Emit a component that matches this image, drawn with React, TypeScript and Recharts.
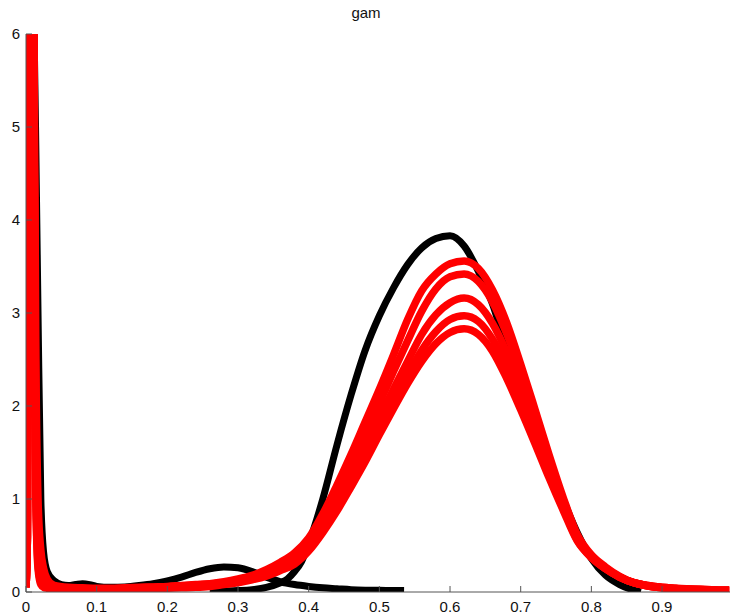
import React from 'react';
import { LineChart, Line, XAxis, YAxis } from 'recharts';

// x positions
const redSpikeX = [0, 0.002, 0.004, 0.0075, 0.011, 0.014, 0.017, 0.021, 0.025];
const redLowX = [0.03, 0.04, 0.06, 0.08, 0.1, 0.12, 0.14, 0.16, 0.18, 0.2, 0.22, 0.24, 0.26, 0.28];
const redMainX = [0.3, 0.32, 0.34, 0.36, 0.38, 0.4, 0.42, 0.44, 0.46, 0.48, 0.5, 0.52, 0.54, 0.56, 0.58, 0.6, 0.62, 0.64, 0.66, 0.68, 0.7, 0.72, 0.74, 0.76, 0.78, 0.8, 0.82, 0.84, 0.86, 0.88, 0.9, 0.92, 0.94, 0.96, 0.98, 0.995];
const redX = [...redSpikeX, ...redLowX, ...redMainX];

const redA = [0.05, 0.6, 6, 12, 6.5, 2.5, 1.0, 0.45, 0.25,
  0.14, 0.07, 0.05, 0.045, 0.04, 0.04, 0.045, 0.05, 0.055, 0.06, 0.07, 0.08, 0.09, 0.11,
  0.14, 0.18, 0.24, 0.32, 0.42, 0.58, 0.84, 1.15, 1.48, 1.83, 2.18, 2.55, 2.93, 3.24, 3.42, 3.53, 3.56, 3.48, 3.25, 2.9, 2.45, 1.97, 1.48, 1.02, 0.62, 0.4, 0.27, 0.17, 0.1, 0.07, 0.05, 0.04, 0.03, 0.03, 0.02, 0.02];
const redB = [0.05, 0.6, 6, 12, 6, 1.0, 0.3, 0.1, 0.06,
  0.05, 0.04, 0.035, 0.035, 0.035, 0.035, 0.04, 0.045, 0.05, 0.055, 0.065, 0.075, 0.085, 0.1,
  0.13, 0.17, 0.22, 0.29, 0.38, 0.53, 0.77, 1.06, 1.37, 1.7, 2.03, 2.37, 2.7, 3.02, 3.26, 3.39, 3.42, 3.34, 3.12, 2.78, 2.36, 1.9, 1.43, 0.99, 0.6, 0.39, 0.26, 0.16, 0.1, 0.07, 0.05, 0.04, 0.03, 0.025, 0.02, 0.02];
const redC = [0.05, 0.8, 7, 12, 5.5, 1.6, 0.6, 0.2, 0.1,
  0.06, 0.04, 0.03, 0.03, 0.03, 0.03, 0.035, 0.04, 0.045, 0.05, 0.06, 0.07, 0.08, 0.09,
  0.12, 0.16, 0.2, 0.27, 0.35, 0.49, 0.71, 0.97, 1.26, 1.56, 1.87, 2.18, 2.48, 2.77, 2.98, 3.11, 3.16, 3.09, 2.89, 2.58, 2.2, 1.78, 1.35, 0.95, 0.58, 0.38, 0.25, 0.16, 0.1, 0.065, 0.045, 0.035, 0.03, 0.025, 0.02, 0.02];
const redD = [0.05, 0.6, 6, 12, 6, 1.2, 0.4, 0.15, 0.08,
  0.05, 0.035, 0.025, 0.025, 0.025, 0.025, 0.03, 0.035, 0.04, 0.045, 0.055, 0.06, 0.07, 0.085,
  0.11, 0.15, 0.19, 0.25, 0.32, 0.46, 0.67, 0.91, 1.18, 1.46, 1.76, 2.06, 2.34, 2.6, 2.8, 2.93, 2.97, 2.91, 2.72, 2.43, 2.07, 1.68, 1.29, 0.91, 0.56, 0.37, 0.25, 0.16, 0.1, 0.065, 0.045, 0.035, 0.03, 0.025, 0.02, 0.02];
const redE = [0.05, 0.6, 6, 12, 6, 1.0, 0.25, 0.08, 0.05,
  0.04, 0.03, 0.02, 0.02, 0.02, 0.02, 0.025, 0.03, 0.035, 0.04, 0.045, 0.05, 0.06, 0.08,
  0.1, 0.13, 0.17, 0.23, 0.3, 0.44, 0.64, 0.87, 1.13, 1.4, 1.69, 1.97, 2.24, 2.48, 2.67, 2.79, 2.83, 2.77, 2.59, 2.3, 1.96, 1.6, 1.23, 0.88, 0.55, 0.37, 0.25, 0.16, 0.1, 0.065, 0.045, 0.035, 0.03, 0.025, 0.02, 0.02];

const blackSpikeX = [0, 0.006, 0.0115, 0.0135, 0.017, 0.021, 0.025, 0.03, 0.04, 0.05, 0.06, 0.07, 0.08, 0.09, 0.1, 0.12, 0.14, 0.16, 0.18, 0.2, 0.22, 0.24, 0.26, 0.28, 0.3, 0.32, 0.34, 0.36, 0.38, 0.4, 0.42, 0.44, 0.46, 0.48, 0.5, 0.52, 0.535];
const blackSpikeY = [14, 10, 6, 5, 3, 1.0, 0.42, 0.22, 0.12, 0.08, 0.07, 0.08, 0.09, 0.08, 0.06, 0.05, 0.055, 0.07, 0.09, 0.12, 0.16, 0.21, 0.25, 0.27, 0.26, 0.22, 0.16, 0.11, 0.08, 0.06, 0.045, 0.035, 0.025, 0.02, 0.018, 0.016, 0.015];

const blackMainX = [0.26, 0.28, 0.3, 0.32, 0.34, 0.36, 0.37, 0.38, 0.39, 0.4, 0.42, 0.44, 0.46, 0.48, 0.5, 0.52, 0.54, 0.56, 0.58, 0.6, 0.62, 0.64, 0.66, 0.68, 0.7, 0.72, 0.74, 0.76, 0.78, 0.8, 0.82, 0.84, 0.86, 0.87];
const blackMainY = [0.01, 0.01, 0.015, 0.025, 0.05, 0.1, 0.14, 0.22, 0.33, 0.52, 1.0, 1.58, 2.12, 2.6, 2.97, 3.27, 3.52, 3.7, 3.8, 3.83, 3.72, 3.45, 3.1, 2.62, 2.25, 1.86, 1.42, 1.0, 0.64, 0.36, 0.18, 0.08, 0.02, 0.0];

const xTicks = [0, 0.1, 0.2, 0.3, 0.4, 0.5, 0.6, 0.7, 0.8, 0.9];
const yTicks = [0, 1, 2, 3, 4, 5, 6];

const toData = (xs: number[], ys: number[]) => xs.map((x, i) => ({ x, y: ys[i] }));

const AXIS_COLOR = '#555';
const FONT = '"Liberation Sans", Arial, Helvetica, sans-serif';

const XTick = (props: any) => {
  const { x, y, payload } = props;
  const axisY = y - 9;
  return (
    <g>
      <line x1={x} x2={x} y1={axisY} y2={axisY - 6} stroke={AXIS_COLOR} strokeWidth={1} />
      <text x={x} y={y} dy="0.71em" textAnchor="middle" fontSize={15} fontFamily={FONT} fill="#111">
        {payload.value}
      </text>
    </g>
  );
};

const YTick = (props: any) => {
  const { x, y, payload } = props;
  const axisX = x + 6;
  return (
    <g>
      <line x1={axisX} x2={axisX + 6} y1={y} y2={y} stroke={AXIS_COLOR} strokeWidth={1} />
      <text x={x} y={y} dy="0.355em" textAnchor="end" fontSize={15} fontFamily={FONT} fill="#111">
        {payload.value}
      </text>
    </g>
  );
};

const series = [
  { key: 'blackSpike', data: toData(blackSpikeX, blackSpikeY), color: '#000', w: 7 },
  { key: 'blackMain', data: toData(blackMainX, blackMainY), color: '#000', w: 7 },
  { key: 'redA', data: toData(redX, redA), color: '#ff0000', w: 7.5 },
  { key: 'redB', data: toData(redX, redB), color: '#ff0000', w: 7.5 },
  { key: 'redC', data: toData(redX, redC), color: '#ff0000', w: 7.5 },
  { key: 'redD', data: toData(redX, redD), color: '#ff0000', w: 7.5 },
  { key: 'redE', data: toData(redX, redE), color: '#ff0000', w: 7.5 },
];

export default function App() {
  return (
    <div style={{ position: 'fixed', left: 0, top: 0, width: 730, height: 615, overflow: 'hidden', background: '#fff' }}>
      <div style={{ position: 'absolute', left: 0, top: 4, width: 732, textAlign: 'center', fontFamily: FONT, fontSize: 15, color: '#111' }}>
        gam
      </div>
      <LineChart width={740} height={615} margin={{ top: 34, right: 7.3, bottom: 0, left: 0 }}>
        <XAxis
          dataKey="x"
          type="number"
          domain={[0, 1]}
          ticks={xTicks}
          allowDataOverflow
          height={23}
          tickSize={0}
          tickMargin={9}
          tickLine={false}
          axisLine={{ stroke: AXIS_COLOR }}
          tick={<XTick />}
          interval={0}
        />
        <YAxis
          type="number"
          domain={[0, 6]}
          ticks={yTicks}
          allowDataOverflow
          width={26}
          tickSize={0}
          tickMargin={6}
          tickLine={false}
          axisLine={{ stroke: AXIS_COLOR }}
          tick={<YTick />}
          interval={0}
        />
        {series.map((s) => (
          <Line
            key={s.key}
            data={s.data}
            dataKey="y"
            type="monotone"
            stroke={s.color}
            strokeWidth={s.w}
            dot={false}
            activeDot={false}
            isAnimationActive={false}
            strokeLinejoin="round"
            strokeLinecap="butt"
          />
        ))}
      </LineChart>
    </div>
  );
}
